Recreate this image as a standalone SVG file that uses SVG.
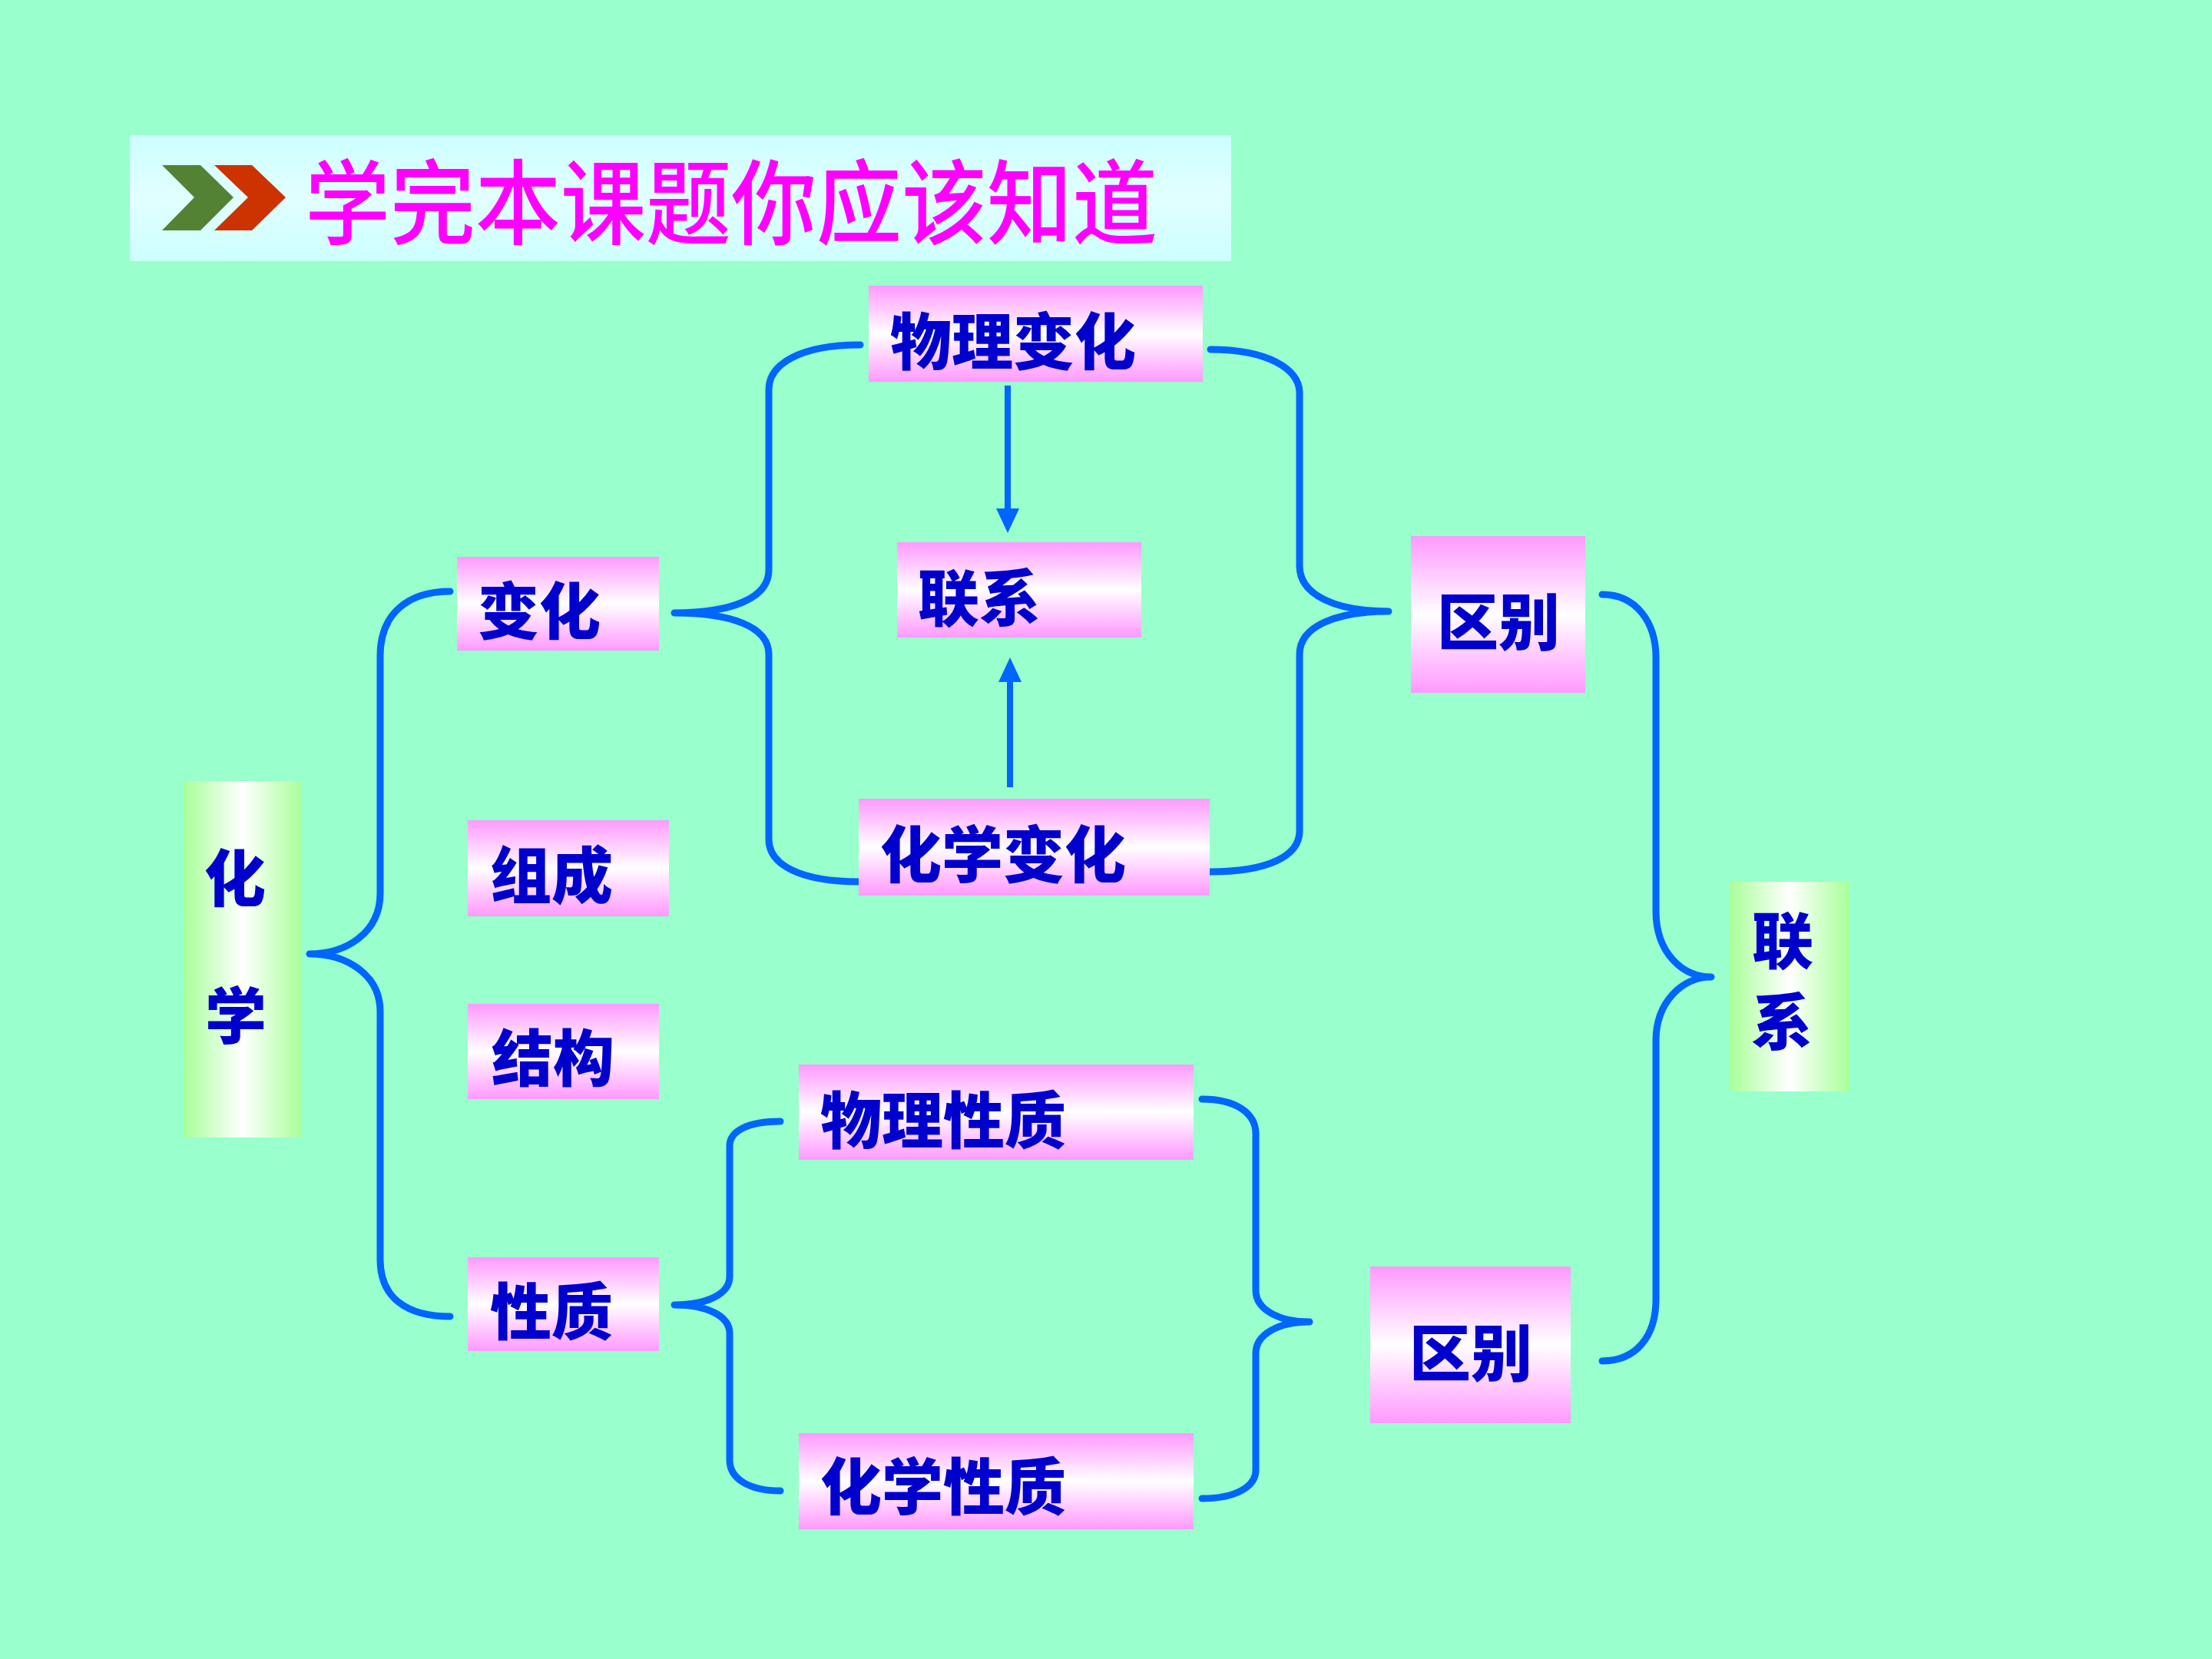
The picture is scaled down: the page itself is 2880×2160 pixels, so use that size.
<svg xmlns="http://www.w3.org/2000/svg" width="2880" height="2160" viewBox="0 0 2880 2160">
  <defs>
    <linearGradient id="pink" x1="0" y1="0" x2="0" y2="1">
      <stop offset="0" stop-color="#FF99FF"/>
      <stop offset="0.5" stop-color="#FFFFFF"/>
      <stop offset="1" stop-color="#FF99FF"/>
    </linearGradient>
    <linearGradient id="green" x1="0" y1="0" x2="1" y2="0">
      <stop offset="0" stop-color="#A8FF99"/>
      <stop offset="0.5" stop-color="#FFFFFF"/>
      <stop offset="1" stop-color="#A8FF99"/>
    </linearGradient>
    <linearGradient id="cyan" x1="0" y1="0" x2="0" y2="1">
      <stop offset="0" stop-color="#CCFFFF"/>
      <stop offset="0.5" stop-color="#E2FFFF"/>
      <stop offset="1" stop-color="#CCFFFF"/>
    </linearGradient>
    <marker id="arrow" markerUnits="userSpaceOnUse" markerWidth="32" markerHeight="30" refX="0" refY="15" orient="auto">
      <path d="M0,0 L32,15 L0,30 Z" fill="#0066FF"/>
    </marker>
    <style>
      .pbox { fill: url(#pink); }
      .gbox { fill: url(#green); }
      .lbl { font-family: "Noto Sans CJK SC", "Noto Sans CJK TC", sans-serif; font-weight: 900; font-size: 80px; fill: #0000CC; dominant-baseline: central; }
      .brace { fill: none; stroke: #0066FF; stroke-width: 9; stroke-linecap: round; stroke-linejoin: round; }
      .arr { fill: none; stroke: #0066FF; stroke-width: 8; }
    </style>
  </defs>

  <rect x="0" y="0" width="2880" height="2160" fill="#99FFCC"/>

  <g id="title">
    <rect x="169" y="176" width="1434" height="164" fill="url(#cyan)"/>
    <polygon points="211,215 261,215 304,257 261,300 211,300 253,257" fill="#548235"/>
    <polygon points="279,215 328,215 372,257 328,300 279,300 323,257" fill="#CC3300"/>
    <text transform="translate(397,257) scale(1,1.08)" x="0" y="0" font-family="Noto Sans CJK SC, sans-serif" font-weight="500" font-size="111" fill="#FF00FF" dominant-baseline="central">学完本课题你应该知道</text>
  </g>

  <g id="connectors">
    <path class="brace" d="M586,770 C530,770 495,800 495,854 L495,1163 C495,1215 450,1242 403,1242 C450,1242 495,1268 495,1317 L495,1640 C495,1690 530,1714 586,1714"/>
    <path class="brace" d="M1120,449 C1040,449 1001,475 1001,507 L1001,742 C1001,780 950,798 878,798 C950,798 1001,815 1001,852 L1001,1093 C1001,1125 1040,1148 1119,1148"/>
    <path class="brace" d="M1576,455 C1650,455 1692,480 1692,512 L1692,737 C1692,775 1740,796 1808,796 C1740,796 1692,815 1692,852 L1692,1082 C1692,1115 1650,1135 1576,1135"/>
    <path class="brace" d="M1016,1460 C975,1460 950,1472 950,1492 L950,1662 C950,1685 920,1699 878,1699 C920,1699 950,1713 950,1736 L950,1901 C950,1925 975,1941 1016,1941"/>
    <path class="brace" d="M1565,1431 C1610,1431 1635,1450 1635,1476 L1635,1680 C1635,1705 1665,1721 1705,1721 C1665,1721 1635,1737 1635,1762 L1635,1914 C1635,1935 1610,1951 1565,1951"/>
    <path class="brace" d="M2086,774 C2130,774 2156,810 2156,856 L2156,1186 C2156,1240 2190,1272 2228,1272 C2190,1272 2156,1305 2156,1355 L2156,1692 C2156,1740 2130,1772 2086,1772"/>
    <line class="arr" x1="1312" y1="502" x2="1312" y2="662" marker-end="url(#arrow)"/>
    <line class="arr" x1="1315" y1="1025" x2="1315" y2="888" marker-end="url(#arrow)"/>
  </g>

  <g id="node-huaxue">
    <rect class="gbox" x="239" y="1017" width="154" height="464"/>
    <text class="lbl" x="306" y="1138" text-anchor="middle">化</text>
    <text class="lbl" x="307" y="1317" text-anchor="middle">学</text>
  </g>
  <g id="node-bianhua">
    <rect class="pbox" x="595" y="725" width="263" height="122"/>
    <text class="lbl" x="622" y="790">变化</text>
  </g>
  <g id="node-zucheng">
    <rect class="pbox" x="609" y="1068" width="262" height="125"/>
    <text class="lbl" x="638" y="1134">组成</text>
  </g>
  <g id="node-jiegou">
    <rect class="pbox" x="609" y="1307" width="249" height="124"/>
    <text class="lbl" x="640" y="1372">结构</text>
  </g>
  <g id="node-xingzhi">
    <rect class="pbox" x="609" y="1637" width="249" height="122"/>
    <text class="lbl" x="638" y="1702">性质</text>
  </g>
  <g id="node-wulibianhua">
    <rect class="pbox" x="1131" y="372" width="435" height="125"/>
    <text class="lbl" x="1159" y="439">物理变化</text>
  </g>
  <g id="node-lianxi-mid">
    <rect class="pbox" x="1168" y="706" width="318" height="124"/>
    <text class="lbl" x="1195" y="773">联系</text>
  </g>
  <g id="node-huaxuebianhua">
    <rect class="pbox" x="1118" y="1040" width="457" height="126"/>
    <text class="lbl" x="1146" y="1107">化学变化</text>
  </g>
  <g id="node-qubie-top">
    <rect class="pbox" x="1837" y="698" width="227" height="204"/>
    <text class="lbl" x="1951" y="804" text-anchor="middle">区别</text>
  </g>
  <g id="node-wulixingzhi">
    <rect class="pbox" x="1040" y="1386" width="514" height="124"/>
    <text class="lbl" x="1068" y="1453">物理性质</text>
  </g>
  <g id="node-huaxuexingzhi">
    <rect class="pbox" x="1040" y="1866" width="514" height="125"/>
    <text class="lbl" x="1068" y="1930">化学性质</text>
  </g>
  <g id="node-qubie-bottom">
    <rect class="pbox" x="1784" y="1649" width="261" height="204"/>
    <text class="lbl" x="1915" y="1756" text-anchor="middle">区别</text>
  </g>
  <g id="node-lianxi-right">
    <rect class="gbox" x="2252" y="1148" width="156" height="273"/>
    <text class="lbl" x="2321" y="1219" text-anchor="middle">联</text>
    <text class="lbl" x="2320" y="1325" text-anchor="middle">系</text>
  </g>
</svg>
